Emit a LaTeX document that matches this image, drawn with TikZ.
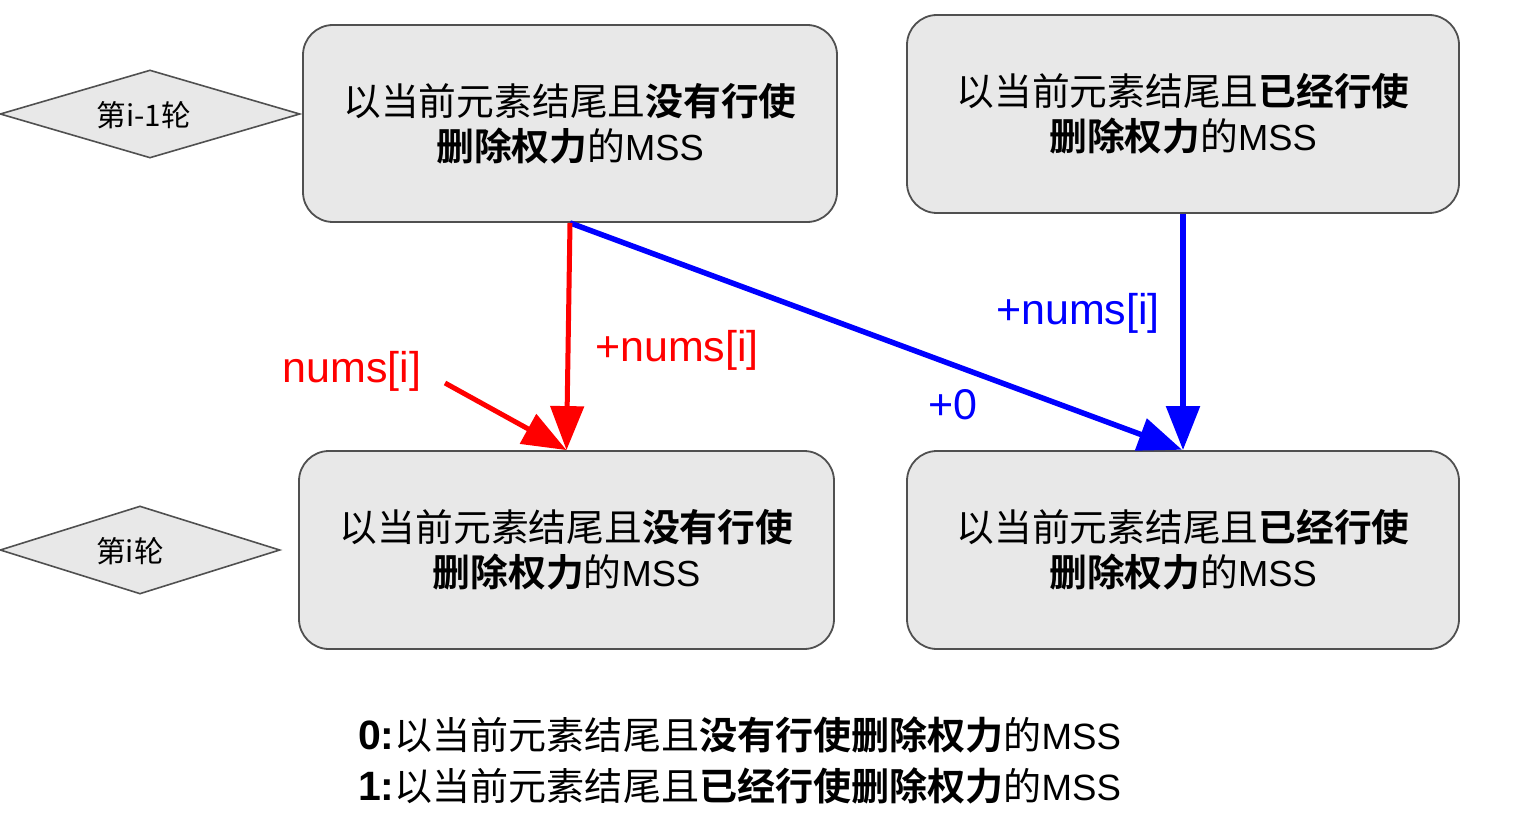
\documentclass[tikz,border=0pt]{standalone}
\usepackage{fontspec}
\setmainfont{Liberation Sans}
\newfontfamily\cjk{Noto Sans CJK SC}[Scale=1.04, BoldFont={Noto Sans CJK SC Bold}]
\usetikzlibrary{arrows.meta,shapes.geometric}
\definecolor{boxfill}{HTML}{E8E8E8}
\definecolor{boxline}{HTML}{505050}
\newcommand\boxtxt[1]{{\cjk 以当前元素结尾且{\bfseries #1}}\\{\cjk\bfseries 删除权力}{\cjk 的}MSS}
\tikzset{
  statebox/.style={draw=boxline, fill=boxfill, line width=1.8pt, rounded corners=30pt,
    align=center, font=\fontsize{36.3}{45}\selectfont, inner sep=0pt},
  roundmark/.style={draw=boxline, fill=boxfill, line width=1.6pt, diamond, inner sep=0pt,
    minimum width=300pt, minimum height=88pt, aspect=3.4},
  roundtxt/.style={font=\fontsize{28.5}{32}\selectfont\cjk},
  redarrow/.style={draw=red, line width=5pt, -{Triangle[width=33pt,length=44pt]}},
  bluearrow/.style={draw=blue, line width=5.5pt, -{Triangle[width=33pt,length=44pt]}},
  edgelbl/.style={font=\fontsize{43}{50}\selectfont, inner sep=0pt},
  legend/.style={anchor=west, font=\fontsize{36.6}{45}\selectfont, inner sep=0pt},
}
\begin{document}
\begin{tikzpicture}[x=1pt,y=-1pt]
\useasboundingbox (0,0) rectangle (1532,824);
% diamonds
\node[roundmark] (d1) at (150,114) {};
\node[roundtxt] (t1) at (144,115) {第i-1轮};
\node[roundmark, minimum width=280pt] (d2) at (140,550) {};
\node[roundtxt] (t2) at (130,551) {第i轮};
% boxes
\node[statebox, minimum width=534pt, minimum height=197pt] (tl) at (570,123.5) {\boxtxt{没有行使}};
\node[statebox, minimum width=552pt, minimum height=198pt] (tr) at (1183,114) {\boxtxt{已经行使}};
\node[statebox, minimum width=535pt, minimum height=198pt] (bl) at (566.5,550) {\boxtxt{没有行使}};
\node[statebox, minimum width=552pt, minimum height=198pt] (br) at (1183,550) {\boxtxt{已经行使}};
% arrows
\coordinate (rs) at (445,383);
\draw[bluearrow, shorten >=1pt] (tl.south) -- (br.north);
\draw[redarrow] (tl.south) -- (bl.north);
\draw[redarrow] (rs) -- (bl.north);
\draw[bluearrow] (tr.south) -- (br.north);
% labels
\node[edgelbl, text=red] (l1) at (352,371) {nums[i]};
\node[edgelbl, text=red] (l2) at (677,350) {+nums[i]};
\node[edgelbl, text=blue] (l3) at (1078,313) {+nums[i]};
\node[edgelbl, text=blue] (l4) at (953,405) {+0};
% legend
\node[legend] (g0) at (358,735) {{\fontsize{41}{45}\selectfont\bfseries 0:}{\cjk 以当前元素结尾且{\bfseries 没有行使删除权力}的}MSS};
\node[legend] (g1) at (358,786) {{\fontsize{41}{45}\selectfont\bfseries 1:}{\cjk 以当前元素结尾且{\bfseries 已经行使删除权力}的}MSS};
\end{tikzpicture}
\end{document}
